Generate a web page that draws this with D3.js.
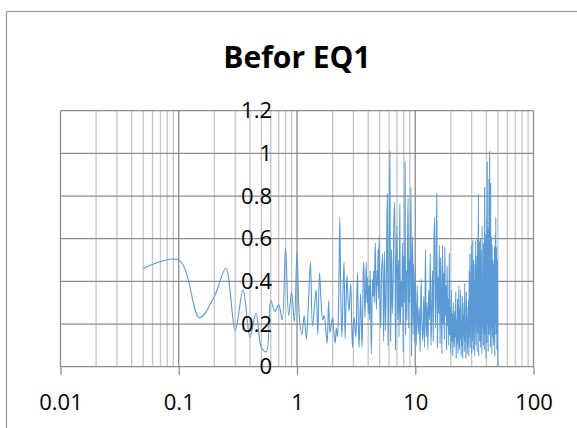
<!DOCTYPE html>
<html>
<head>
<meta charset="utf-8">
<script src="https://cdn.jsdelivr.net/npm/d3@7"></script>
<style>
  body { margin: 0; background: #fff; }
  svg { display: block; font-family: "Open Sans", sans-serif; }
  .grid-minor { stroke: #c6c6c6; stroke-width: 1.3; }
  .grid-major { stroke: #8c8c8c; stroke-width: 1.3; }
  .axis text { fill: #000; font-size: 22px; font-family: "Open Sans", sans-serif; }
  .axis line { stroke: #8c8c8c; stroke-width: 1.3; }
  .title { font-size: 30px; font-weight: bold; fill: #000; }
</style>
</head>
<body>
<script>
// spectrum amplitudes
// 0.05 .. 5.0 Hz, step 0.05
var lowStart = 0.05, lowStep = 0.05;
var ampLow = [
  0.46, 0.50, 0.23, 0.33, 0.46, 0.17, 0.36, 0.14, 0.25, 0.09,
  0.07, 0.31, 0.26, 0.29, 0.22, 0.56, 0.24, 0.35, 0.21, 0.54,
  0.22, 0.15, 0.24, 0.13, 0.30, 0.49, 0.19, 0.27, 0.36, 0.15,
  0.44, 0.30, 0.22, 0.24, 0.18, 0.11, 0.31, 0.16, 0.20, 0.23,
  0.16, 0.11, 0.18, 0.14, 0.30, 0.70, 0.30, 0.14, 0.35, 0.49,
  0.13, 0.30, 0.43, 0.32, 0.26, 0.32, 0.39, 0.20, 0.09, 0.20,
  0.23, 0.17, 0.14, 0.30, 0.44, 0.20, 0.09, 0.22, 0.34, 0.20,
  0.09, 0.30, 0.49, 0.42, 0.23, 0.35, 0.49, 0.30, 0.42, 0.25,
  0.38, 0.22, 0.45, 0.30, 0.06, 0.25, 0.41, 0.33, 0.45, 0.30,
  0.49, 0.58, 0.35, 0.27, 0.45, 0.38, 0.55, 0.32, 0.61, 0.40
];
// 5.1 .. 10 Hz, step 0.1
var midStart = 5.1, midStep = 0.1;
var ampMid = [
  0.18, 0.45, 0.53, 0.12, 0.54, 0.17, 0.42, 0.81, 0.10, 0.48,
  1.01, 0.12, 0.55, 0.25, 0.38, 0.69, 0.77, 0.08, 0.45, 0.66,
  0.22, 0.50, 0.14, 0.76, 0.20, 0.40, 0.28, 0.58, 0.07, 0.52,
  0.30, 0.96, 0.15, 0.45, 0.22, 0.55, 0.79, 0.18, 0.50, 0.30,
  0.62, 0.84, 0.05, 0.40, 0.61, 0.15, 0.48, 0.35, 0.12, 0.44
];
// 10.2 .. 50 Hz, step 0.2
var highStart = 10.2, highStep = 0.2;
var ampHigh = [
  0.10, 0.38, 0.15, 0.28, 0.07, 0.41, 0.20, 0.12, 0.33, 0.09,
  0.55, 0.14, 0.30, 0.08, 0.36, 0.22, 0.53, 0.10, 0.27, 0.45,
  0.12, 0.59, 0.70, 0.18, 0.35, 0.81, 0.09, 0.42, 0.25, 0.57,
  0.11, 0.51, 0.30, 0.06, 0.57, 0.20, 0.44, 0.13, 0.56, 0.24,
  0.38, 0.08, 0.47, 0.19, 0.32, 0.10, 0.53, 0.15, 0.28, 0.06,
  0.36, 0.12, 0.25, 0.05, 0.30, 0.18, 0.09, 0.26, 0.14, 0.35,
  0.04, 0.22, 0.11, 0.32, 0.06, 0.19, 0.38, 0.08, 0.27, 0.13,
  0.36, 0.05, 0.21, 0.10, 0.33, 0.04, 0.24, 0.15, 0.30, 0.07,
  0.39, 0.12, 0.20, 0.04, 0.35, 0.16, 0.28, 0.06, 0.23, 0.11,
  0.31, 0.05, 0.45, 0.14, 0.53, 0.09, 0.38, 0.20, 0.57, 0.06,
  0.44, 0.12, 0.59, 0.25, 0.08, 0.50, 0.18, 0.40, 0.05, 0.48,
  0.22, 0.59, 0.10, 0.45, 0.30, 0.52, 0.07, 0.60, 0.16, 0.40,
  0.81, 0.05, 0.47, 0.20, 0.59, 0.12, 0.38, 0.60, 0.09, 0.43,
  0.25, 0.55, 0.06, 0.66, 0.18, 0.41, 0.30, 0.10, 0.58, 0.22,
  0.48, 0.08, 0.84, 0.35, 0.15, 0.62, 0.27, 0.04, 0.54, 0.33,
  0.70, 0.11, 0.96, 0.40, 0.20, 0.65, 0.07, 0.52, 0.30, 0.88,
  0.15, 0.60, 1.01, 0.25, 0.45, 0.09, 0.86, 0.34, 0.18, 0.61,
  0.42, 0.06, 0.57, 0.28, 0.14, 0.50, 0.22, 0.38, 0.10, 0.48,
  0.26, 0.12, 0.56, 0.35, 0.05, 0.44, 0.20, 0.62, 0.30, 0.70,
  0.15, 0.45, 0.25, 0.56, 0.08, 0.38, 0.20, 0.50, 0.12, 0.00
];

var xTicks = [0.01, 0.1, 1, 10, 100];
var xTickLabels = ["0.01", "0.1", "1", "10", "100"];
var yTicks = [0, 0.2, 0.4, 0.6, 0.8, 1, 1.2];
var yTickLabels = ["0", "0.2", "0.4", "0.6", "0.8", "1", "1.2"];
var chartTitle = "Befor EQ1";

var width = 577, height = 428;

var points = [];
function addSeg(start, step, arr) {
  arr.forEach(function(v, i) {
    points.push({f: +(start + step * i).toFixed(2), a: v});
  });
}
addSeg(lowStart, lowStep, ampLow);
addSeg(midStart, midStep, ampMid);
addSeg(highStart, highStep, ampHigh);

var svg = d3.select("body").append("svg")
  .attr("width", width)
  .attr("height", height);

// chart area border
svg.append("rect")
  .attr("x", 6.5).attr("y", 11.5)
  .attr("width", 620).attr("height", 500)
  .attr("fill", "none")
  .attr("stroke", "#a0a0a0")
  .attr("stroke-width", 1.3);

svg.append("text")
  .attr("class", "title")
  .attr("x", 297).attr("y", 68)
  .attr("text-anchor", "middle")
  .text(chartTitle);

var x = d3.scaleLog().domain([0.01, 100]).range([60.5, 533.5]);
var y = d3.scaleLinear().domain([0, 1.2]).range([366.7, 110.7]);

function isDecade(d) {
  var l = Math.log10(d);
  return Math.abs(l - Math.round(l)) < 1e-9;
}

var vt = x.ticks();
svg.append("g").selectAll("line")
  .data(vt.filter(function(d) { return !isDecade(d); }))
  .enter().append("line")
  .attr("class", "grid-minor")
  .attr("x1", function(d) { return x(d); }).attr("x2", function(d) { return x(d); })
  .attr("y1", y(1.2)).attr("y2", y(0));

svg.append("g").selectAll("line")
  .data(yTicks)
  .enter().append("line")
  .attr("class", "grid-major")
  .attr("x1", x(0.01)).attr("x2", x(100))
  .attr("y1", function(d) { return y(d); }).attr("y2", function(d) { return y(d); });

svg.append("g").selectAll("line")
  .data(xTicks)
  .enter().append("line")
  .attr("class", "grid-major")
  .attr("x1", function(d) { return x(d); }).attr("x2", function(d) { return x(d); })
  .attr("y1", y(1.2)).attr("y2", y(0));

var xAxis = d3.axisBottom(x)
  .tickValues(xTicks)
  .tickFormat(function(d, i) { return xTickLabels[i]; })
  .tickSize(8)
  .tickPadding(20);

svg.append("g")
  .attr("class", "axis")
  .attr("transform", "translate(0," + y(0) + ")")
  .call(xAxis)
  .call(function(g) { g.select(".domain").remove(); });

var line = d3.line()
  .x(function(d) { return x(d.f); })
  .y(function(d) { return y(d.a); })
  .curve(d3.curveCatmullRom);

svg.append("path")
  .datum(points)
  .attr("d", line)
  .attr("fill", "none")
  .attr("stroke", "#5b9bd5")
  .attr("stroke-width", 1.1);

var yAxis = d3.axisLeft(y)
  .tickValues(yTicks)
  .tickFormat(function(d, i) { return yTickLabels[i]; })
  .tickSize(0)
  .tickPadding(25);

svg.append("g")
  .attr("class", "axis")
  .attr("transform", "translate(" + x(1) + ",0)")
  .call(yAxis)
  .call(function(g) { g.select(".domain").remove(); });
</script>
</body>
</html>
